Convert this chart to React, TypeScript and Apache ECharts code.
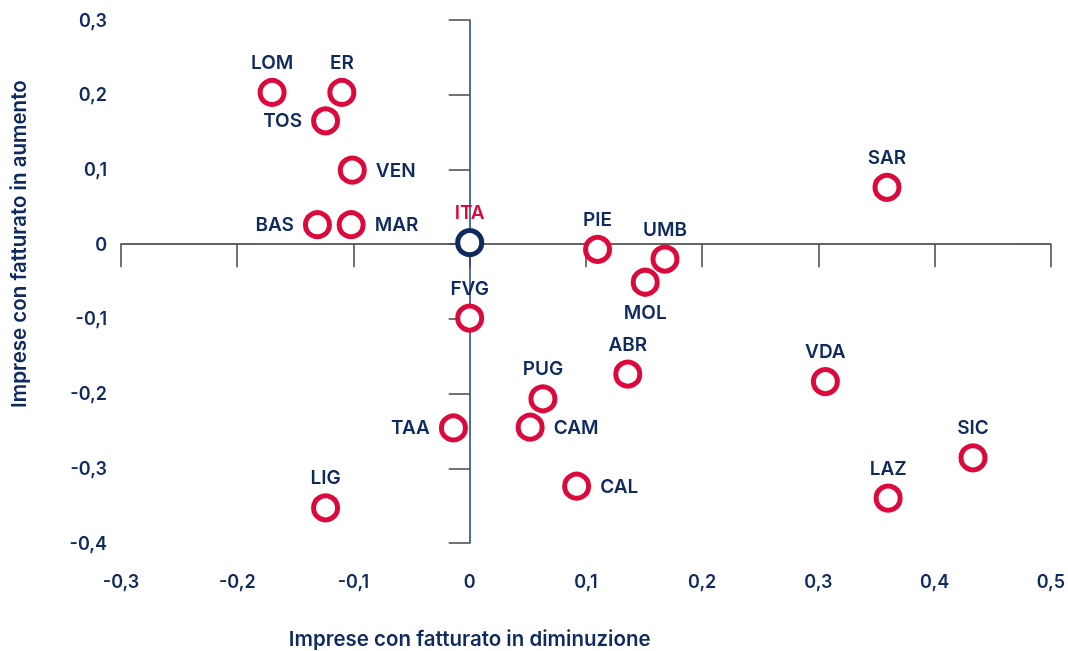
import React, { useEffect, useRef } from "react";
import * as echarts from "echarts";

const regions = ["LOM", "ER", "TOS", "VEN", "BAS", "MAR", "ITA", "PIE", "UMB", "MOL", "FVG", "ABR", "PUG", "CAM", "TAA", "CAL", "LIG", "VDA", "SAR", "SIC", "LAZ"];
const decreasing = [-0.170, -0.110, -0.124, -0.101, -0.131, -0.102, 0.0, 0.110, 0.168, 0.151, 0.0, 0.136, 0.063, 0.052, -0.014, 0.092, -0.124, 0.306, 0.359, 0.433, 0.360];
const increasing = [0.203, 0.203, 0.165, 0.099, 0.026, 0.026, 0.002, -0.007, -0.020, -0.051, -0.099, -0.174, -0.207, -0.245, -0.246, -0.324, -0.353, -0.184, 0.076, -0.286, -0.340];
const labelSide = ["top", "top", "left", "right", "left", "right", "top", "top", "top", "bottom", "top", "top", "top", "right", "left", "right", "top", "top", "top", "top", "top"];

const xTitle = "Imprese con fatturato in diminuzione";
const yTitle = "Imprese con fatturato in aumento";

const NAVY = "#0f2a5f";
const RED = "#dc0a3c";
const FONT = "Inter";

const fmt = (v: number) => (Math.abs(v) < 1e-9 ? "0" : v.toFixed(1).replace(".", ","));

export default function App() {
  const ref = useRef<HTMLDivElement>(null);
  useEffect(() => {
    if (!ref.current) return;
    const chart = echarts.init(ref.current, undefined, { renderer: "svg" });
    const data = regions.map((r, i) => {
      const isIta = r === "ITA";
      const side = labelSide[i];
      return {
        name: r,
        value: [decreasing[i], increasing[i]],
        itemStyle: { color: "#ffffff", borderColor: isIta ? NAVY : RED, borderWidth: 5, opacity: 1 },
        label: {
          show: true,
          position: side,
          distance: side === "top" || side === "bottom" ? 6 : 9,
          formatter: r,
          color: isIta ? RED : NAVY,
          opacity: 1,
          fontSize: 19,
          fontWeight: 600,
          fontFamily: FONT,
        },
      };
    });
    const axisLabel = { color: NAVY, fontSize: 18, fontWeight: 600, fontFamily: FONT, formatter: fmt };
    chart.setOption({
      animation: false,
      grid: { left: 121, right: 17, top: 20, bottom: 108, containLabel: false },
      xAxis: [
        {
          type: "value", min: -0.3, max: 0.5, interval: 0.1, position: "bottom",
          axisLine: { show: false, onZero: false }, axisTick: { show: false }, splitLine: { show: false },
          axisLabel: { ...axisLabel, margin: 29 },
        },
        {
          type: "value", min: -0.3, max: 0.5, interval: 0.1, position: "bottom",
          axisLine: { show: true, onZero: true, lineStyle: { color: "#333333", width: 1.5 } },
          axisTick: { show: true, length: 23, lineStyle: { color: "#444444", width: 1.5 } },
          axisLabel: { show: false }, splitLine: { show: false },
        },
      ],
      yAxis: [
        {
          type: "value", min: -0.4, max: 0.3, interval: 0.1, position: "left",
          axisLine: { show: false, onZero: false }, axisTick: { show: false }, splitLine: { show: false },
          axisLabel: { ...axisLabel, margin: 14 },
        },
        {
          type: "value", min: -0.4, max: 0.3, interval: 0.1, position: "left",
          axisLine: { show: true, onZero: true, lineStyle: { color: "#1d3a8a", width: 1.5 } },
          axisTick: { show: true, length: 21, lineStyle: { color: "#444444", width: 1.5 } },
          axisLabel: { show: false }, splitLine: { show: false },
        },
      ],
      series: [
        {
          type: "scatter", xAxisIndex: 0, yAxisIndex: 0,
          symbol: "circle", symbolSize: 24, data, z: 5,
          itemStyle: { opacity: 1 },
        },
      ],
    });
    const [x0, y0] = chart.convertToPixel({ seriesIndex: 0 }, [0, 0]) as number[];
    chart.setOption({
      graphic: [
        {
          type: "text", x: x0, y: 638,
          style: { text: xTitle, fill: NAVY, font: `600 20.5px ${FONT}`, align: "center", verticalAlign: "middle" },
        },
        {
          type: "text", x: 18, y: y0, rotation: Math.PI / 2,
          style: { text: yTitle, fill: NAVY, font: `600 20.5px ${FONT}`, align: "center", verticalAlign: "middle" },
        },
      ],
    });
    return () => chart.dispose();
  }, []);
  return <div ref={ref} style={{ position: "fixed", left: 0, top: 0, width: 1068, height: 651 }} />;
}
